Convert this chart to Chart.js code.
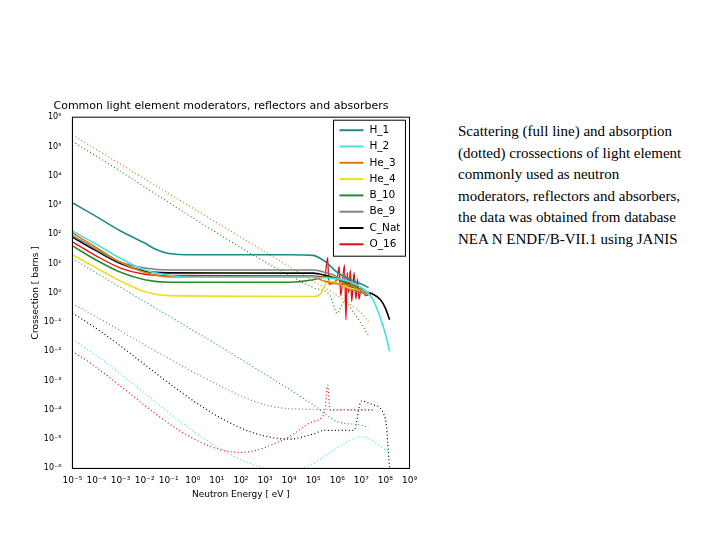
<!DOCTYPE html>
<html>
<head>
<meta charset="utf-8">
<script src="https://cdn.jsdelivr.net/npm/chart.js@4"></script>
<style>
  body { margin: 0; background: #fff; width: 720px; height: 540px; position: relative; }
  #wrap { position: absolute; left: 30px; top: 100px; width: 390px; height: 400px; }
  #txt { position: absolute; left: 458px; top: 121px; width: 228px; font-family: "Liberation Serif", serif; font-size: 15px; line-height: 21.6px; color: #000; }
</style>
</head>
<body>
<div id="wrap"><canvas id="c"></canvas></div>
<div id="txt">Scattering (full line) and absorption (dotted) crossections of light element commonly used as neutron moderators, reflectors and absorbers, the data was obtained from database NEA N ENDF/B-VII.1 using JANIS</div>
<script>
// nombres y colores de los elementos
const elementos = ['H_1', 'H_2', 'He_3', 'He_4', 'B_10', 'Be_9', 'C_Nat', 'O_16'];
const colores = ['#1a8c8c', '#3fe0e6', '#e0780e', '#ecdf22', '#2a8a2a', '#808080', '#000000', '#e01010'];

// scattering (línea continua): energía [eV] y sección eficaz [barns]
const scatE = [
  [1e-5, 1e-4, 1e-3, 1e-2, 3e-2, 1e-1, 1, 1e2, 1e4, 1e5, 3e5, 1e6, 3e6, 1e7, 2e7],
  [1e-5, 1e-4, 1e-3, 1e-2, 1e-1, 1, 1e5, 1e6, 3e6, 1e7, 3e7, 1e8, 1.5e8],
  [1e-5, 1e-4, 1e-3, 1e-2, 1e-1, 1e5, 3e5, 1e6, 3e6, 1e7, 2e7],
  [1e-5, 1e-4, 1e-3, 1e-2, 1e-1, 1e5, 2e5, 4e5, 1e6, 3e6, 1e7, 2e7],
  [1e-5, 1e-4, 1e-3, 1e-2, 1e-1, 1e4, 1e5, 3e5, 1e6, 3e6, 1e7, 2e7],
  [1e-5, 1e-4, 1e-3, 1e-2, 1e-1, 1e5, 3e5, 1e6, 3e6, 1e7, 2e7],
  [1e-5, 1e-4, 1e-3, 1e-2, 1e-1, 1e5, 3e5, 1e6, 3e6, 1e7, 3e7, 6e7, 1e8, 1.5e8],
  [1e-5, 1e-4, 1e-3, 1e-2, 1e-1, 1e5, 3e5, 4e5, 4.5e5, 1e6, 1.2e6, 1.4e6, 2e6, 2.3e6, 2.6e6, 3e6, 3.5e6, 4e6, 5e6, 6e6, 7e6, 8e6, 1e7, 1.5e7, 3e7]
];
const scatS = [
  [1200, 400, 130, 50, 30, 22, 20, 20, 20, 19, 12, 5, 3, 2, 1.5],
  [130, 45, 15, 6, 4, 3.4, 3.4, 3, 2.5, 1.5, 0.6, 0.04, 0.01],
  [110, 35, 11, 5, 3.5, 3.4, 2.5, 2, 1.8, 1.2, 1],
  [20, 7, 2.5, 1.1, 0.8, 0.75, 0.9, 2.5, 2.2, 1.5, 1.2, 1],
  [40, 13, 5, 2.8, 2.3, 2.3, 2.8, 3.5, 3, 2, 1.3, 1],
  [90, 30, 11, 7, 6, 6, 5, 3.5, 1.5, 1, 0.9],
  [80, 27, 10, 5.5, 4.8, 4.7, 4, 3, 1.8, 1.2, 0.9, 0.6, 0.3, 0.12],
  [55, 18, 7, 4.3, 3.9, 3.8, 3.5, 16, 2, 3, 8, 0.8, 9, 0.12, 5, 1, 6, 0.5, 5, 0.6, 3, 0.6, 1.5, 0.8, 1]
];

// absorción (punteada); He_4 no tiene
const absE = [
  [1e-5, 1e5, 1e6, 1e7, 2e7],
  [1e-5, 1e4, 1e5, 1e6, 1e7, 1.5e8],
  [1e-5, 1e5, 1e6, 1e7, 2e7],
  [],
  [1e-5, 1e5, 5e5, 1e6, 2e6, 5e6, 2e7],
  [1e-5, 1e2, 1e3, 1e4, 1e7, 3e7],
  [1e-5, 1e4, 1e5, 3e5, 5e6, 1e7, 3e7, 1e8, 1.5e8],
  [1e-5, 1e2, 1e4, 1e5, 3e5, 4e5, 5e5, 1e7, 3e7]
];
const absS = [
  [15, 1.5e-4, 4e-5, 3e-5, 2.5e-5],
  [0.025, 8e-7, 1.5e-6, 5e-6, 1.2e-5, 3.5e-6],
  [2.5e5, 2.5, 0.8, 0.2, 0.1],
  [],
  [1.5e5, 1.5, 0.8, 0.2, 0.5, 0.2, 0.035],
  [0.43, 3e-4, 1.5e-4, 1.1e-4, 1e-4, 1e-4],
  [0.2, 1e-5, 1.5e-5, 2e-5, 2e-5, 2e-4, 1.5e-4, 5e-5, 1e-6],
  [1e-2, 3.5e-6, 1.2e-5, 4e-5, 8e-5, 7e-4, 1e-4, 1e-4, 1e-4]
];

const decadasX = [-5, -4, -3, -2, -1, 0, 1, 2, 3, 4, 5, 6, 7, 8, 9];
const decadasY = [-6, -5, -4, -3, -2, -1, 0, 1, 2, 3, 4, 5, 6];

const sup = { '-': '⁻', '0': '⁰', '1': '¹', '2': '²', '3': '³', '4': '⁴', '5': '⁵', '6': '⁶', '7': '⁷', '8': '⁸', '9': '⁹' };
function etiqueta(v) {
  const e = Math.round(Math.log10(v));
  return '10' + String(e).split('').map(ch => sup[ch]).join('');
}

const datasets = [];
elementos.forEach((nombre, i) => {
  datasets.push({
    label: nombre,
    data: scatE[i].map((x, j) => ({ x: x, y: scatS[i][j] })),
    borderColor: colores[i], borderWidth: i === 7 ? 1.3 : 1.6,
    pointRadius: 0, cubicInterpolationMode: 'monotone', fill: false
  });
});
elementos.forEach((nombre, i) => {
  if (!absE[i].length) return;
  datasets.push({
    label: nombre + ' abs',
    data: absE[i].map((x, j) => ({ x: x, y: absS[i][j] })),
    borderColor: colores[i], borderWidth: 1.2, borderDash: [1, 2.5],
    pointRadius: 0, cubicInterpolationMode: 'monotone', fill: false
  });
});

// leyenda dentro del área de la gráfica y marco completo
const leyenda = {
  id: 'leyenda',
  afterDraw(chart) {
    const ctx = chart.ctx, a = chart.chartArea;
    ctx.save();
    ctx.strokeStyle = '#000'; ctx.lineWidth = 1;
    ctx.strokeRect(a.left, a.top, a.right - a.left, a.bottom - a.top);
    const w = 72, h = 136, x0 = a.right - w - 4, y0 = a.top + 3;
    ctx.fillStyle = '#fff';
    ctx.fillRect(x0, y0, w, h);
    ctx.strokeRect(x0, y0, w, h);
    ctx.font = '10.5px "DejaVu Sans"';
    ctx.textBaseline = 'middle';
    elementos.forEach((n, i) => {
      const y = y0 + 10 + i * 16.3;
      ctx.strokeStyle = colores[i]; ctx.lineWidth = 2;
      ctx.beginPath(); ctx.moveTo(x0 + 6, y); ctx.lineTo(x0 + 30, y); ctx.stroke();
      ctx.fillStyle = '#000';
      ctx.fillText(n, x0 + 36, y);
    });
    ctx.restore();
  }
};

new Chart(document.getElementById('c'), {
  type: 'line',
  data: { datasets: datasets },
  plugins: [leyenda],
  options: {
    responsive: true, maintainAspectRatio: false, animation: false,
    layout: { padding: { right: 8 } },
    plugins: {
      legend: { display: false },
      tooltip: { enabled: false },
      title: { display: true, text: 'Common light element moderators, reflectors and absorbers',
               color: '#000', font: { family: 'DejaVu Sans', size: 11, weight: 'normal' }, padding: { top: 0, bottom: 4 } }
    },
    scales: {
      x: {
        type: 'logarithmic', min: 1e-5, max: 1e9,
        afterBuildTicks: s => { s.ticks = decadasX.map(e => ({ value: Math.pow(10, e) })); },
        ticks: { callback: v => etiqueta(v), color: '#000', font: { family: 'DejaVu Sans', size: 9 }, maxRotation: 0, autoSkip: false },
        grid: { display: false, drawTicks: true, tickLength: 4 },
        border: { color: '#000' },
        title: { display: true, text: 'Neutron Energy [ eV ]', color: '#000', font: { family: 'DejaVu Sans', size: 9 }, padding: 0 }
      },
      y: {
        type: 'logarithmic', min: 1e-6, max: 1e6,
        afterBuildTicks: s => { s.ticks = decadasY.map(e => ({ value: Math.pow(10, e) })); },
        ticks: { callback: v => etiqueta(v), color: '#000', font: { family: 'DejaVu Sans', size: 8 }, autoSkip: false },
        grid: { display: false },
        border: { color: '#000' },
        title: { display: true, text: 'Crossection [ barns ]', color: '#000', font: { family: 'DejaVu Sans', size: 9 }, padding: 0 }
      }
    }
  }
});
</script>
</body>
</html>
